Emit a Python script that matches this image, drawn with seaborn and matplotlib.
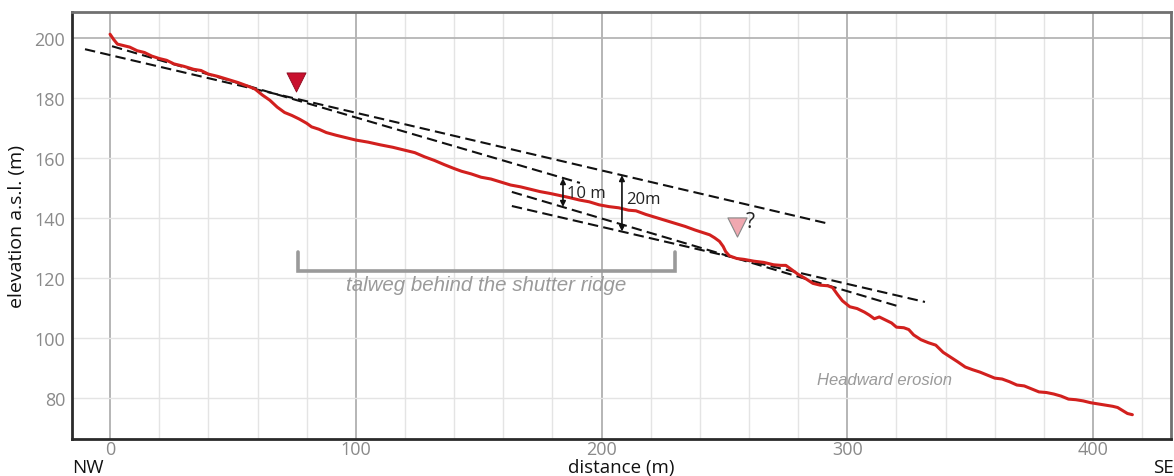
import matplotlib
matplotlib.use("Agg")
import matplotlib.pyplot as plt
import seaborn as sns
import pandas as pd
import numpy as np

# ---- data ----
distance = [0, 1.5, 3, 5, 8, 11, 14, 17, 20, 23, 26, 30, 34, 37, 40, 44, 48, 52, 56, 59,
            62, 65, 68, 71, 74, 77, 80, 82, 85, 88, 92, 96, 100, 105, 110, 115, 120, 124, 128, 132,
            136, 140, 143, 147, 151, 155, 159, 163, 167, 171, 175, 179, 183, 187, 191, 195, 199, 203, 207, 211,
            214, 218, 222, 226, 230, 234, 238, 241, 244, 246, 248, 249.5, 250.5, 252, 255, 258, 262, 266, 270, 273,
            275, 277, 280, 283, 286, 289, 292, 294, 296, 298, 301, 304, 307, 309, 311, 313, 316, 318, 320, 323,
            325, 327, 330, 333, 336, 339, 342, 345, 348, 351, 354, 357, 360, 363, 366, 369, 372, 375, 378, 381,
            384, 387, 390, 393, 396, 399, 402, 405, 408, 410, 412, 414, 416]
elevation = [201.3, 199.5, 198.0, 197.6, 197.0, 195.8, 195.2, 194.0, 193.2, 192.6, 191.4, 190.6, 189.6, 189.2, 188.0, 187.2, 186.2, 185.2, 184.0, 183.0,
             181.0, 179.3, 177.0, 175.2, 174.2, 173.0, 171.6, 170.4, 169.6, 168.5, 167.6, 166.8, 166.0, 165.3, 164.4, 163.6, 162.6, 161.8, 160.4, 159.2,
             157.8, 156.5, 155.6, 154.7, 153.6, 153.0, 152.0, 151.0, 150.4, 149.6, 148.8, 148.2, 147.5, 146.8, 146.0, 145.4, 144.4, 143.8, 143.4, 142.6,
             142.4, 141.2, 140.2, 139.2, 138.2, 137.2, 136.0, 135.2, 134.4, 133.4, 132.2, 130.5, 128.8, 127.4, 126.5, 126.2, 125.6, 125.2, 124.4, 124.2,
             124.2, 123.0, 121.2, 119.8, 118.2, 117.6, 117.4, 116.8, 114.5, 112.4, 110.4, 109.8, 108.6, 107.6, 106.4, 107.0, 105.8, 105.0, 103.6, 103.4,
             102.8, 101.0, 99.4, 98.4, 97.6, 95.2, 93.6, 92.0, 90.3, 89.4, 88.6, 87.6, 86.6, 86.3, 85.4, 84.3, 84.0, 83.0, 82.0, 81.8,
             81.3, 80.6, 79.6, 79.4, 79.0, 78.4, 78.0, 77.6, 77.2, 76.8, 75.8, 74.8, 74.4]

# dashed reference lines (start x, start y, end x, end y)
line_names = ["A", "B", "C1", "C2"]
line_x0 = [-10.2, 0.8, 163.5, 163.5]
line_y0 = [196.3, 197.3, 148.7, 144.0]
line_x1 = [292.9, 191.2, 320.2, 331.6]
line_y1 = [138.0, 151.7, 110.7, 112.0]

# offset arrows
arrow_x = [184.3, 208.3]
arrow_top = [153.3, 154.3]
arrow_bottom = [143.7, 135.5]
arrow_labels = ["10 m", "20m"]

marker_x = [75.7, 255.0]
marker_y = [185.3, 137.0]

bracket_x = [76.5, 229.9]
bracket_y = [128.7, 122.3]

x_ticks = [0, 100, 200, 300, 400]
y_ticks = [80, 100, 120, 140, 160, 180, 200]

# ---- figure ----
sns.set_theme(style="white")
plt.rcParams['font.family'] = ['Open Sans', 'DejaVu Sans']

fig = plt.figure(figsize=(11.74, 4.77), dpi=100)
ax = fig.add_axes([0.0613, 0.0776, 0.9361, 0.8951])
ax.set_xlim(-15.5, 431.7)
ax.set_ylim(66.3, 208.7)

# grid
for gx in np.arange(0, 431, 20):
    major = (gx % 100 == 0)
    ax.axvline(gx, color="#b0b0b0" if major else "#e4e4e4", lw=1.3 if major else 1.0, zorder=0)
for gy in y_ticks:
    ax.axhline(gy, color="#b5b5b5" if gy == 200 else "#e4e4e4", lw=1.3 if gy == 200 else 1.0, zorder=0)

# dashed lines
for n, x0, y0, x1, y1 in zip(line_names, line_x0, line_y0, line_x1, line_y1):
    ax.plot([x0, x1], [y0, y1], color="#111111", lw=1.5, dashes=(5, 2.5), zorder=3)

# profile
df = pd.DataFrame({"distance": distance, "elevation": elevation})
sns.lineplot(data=df, x="distance", y="elevation", color="#d2201e", lw=2.2,
             sort=False, ax=ax, zorder=4)

# arrows
for xa, yt, yb, lab in zip(arrow_x, arrow_top, arrow_bottom, arrow_labels):
    ax.annotate("", xy=(xa, yt), xytext=(xa, yb),
                arrowprops=dict(arrowstyle="<|-|>", color="#111111", lw=1.2,
                                mutation_scale=8, shrinkA=0, shrinkB=0), zorder=5)
ax.text(arrow_x[0] + 1.5, 148.3, arrow_labels[0], fontsize=12, color="#222222", va="center", ha="left", zorder=6)
ax.text(arrow_x[1] + 1.8, 146.3, arrow_labels[1], fontsize=12, color="#222222", va="center", ha="left", zorder=6)

# triangles
ax.scatter([marker_x[0]], [marker_y[0]], marker="v", s=190, color="#c8102e", edgecolor="#8a0a1e", lw=0.6, zorder=6)
ax.scatter([marker_x[1]], [marker_y[1]], marker="v", s=190, color="#f0a8b0", edgecolor="#888888", lw=0.8, zorder=6)
ax.text(marker_x[1] + 3.6, 139.0, "?", fontsize=15, color="#222222", va="center", ha="left", zorder=6)

# bracket
ax.plot([bracket_x[0], bracket_x[0], bracket_x[1], bracket_x[1]],
        [bracket_y[0], bracket_y[1], bracket_y[1], bracket_y[0]],
        color="#9a9a9a", lw=2.6, solid_joinstyle="miter", zorder=3)
ax.text((bracket_x[0] + bracket_x[1]) / 2, 117.7, "talweg behind the shutter ridge",
        fontsize=14.8, style="italic", color="#9a9a9a", ha="center", va="center",
        family=["Liberation Sans", "DejaVu Sans"])
ax.text(287.5, 86.0, "Headward erosion", fontsize=12, style="italic", color="#9a9a9a",
        ha="left", va="center", family=["Liberation Sans", "DejaVu Sans"])

# axes styling
ax.set_xticks(x_ticks)
ax.set_yticks(y_ticks)
ax.tick_params(axis="both", length=0, labelsize=13, labelcolor="#8a8a8a", pad=5)
ax.tick_params(axis="x", pad=1)
ax.set_xlabel("distance (m)", fontsize=13.5, color="#111111", labelpad=0)
ax.set_ylabel("elevation a.s.l. (m)", fontsize=14, color="#111111", labelpad=6)
for side in ["left", "bottom"]:
    ax.spines[side].set_color("#2a2a2a")
    ax.spines[side].set_linewidth(2.0)
for side in ["top", "right"]:
    ax.spines[side].set_color("#707070")
    ax.spines[side].set_linewidth(2.0)
ax.grid(False)

fig.text(88 / 1174, 1 - 468 / 477, "NW", fontsize=13.5, color="#111111", ha="center", va="center")
fig.text(1163 / 1174, 1 - 468 / 477, "SE", fontsize=13.5, color="#111111", ha="center", va="center")

fig.savefig("out.png", dpi=100)
